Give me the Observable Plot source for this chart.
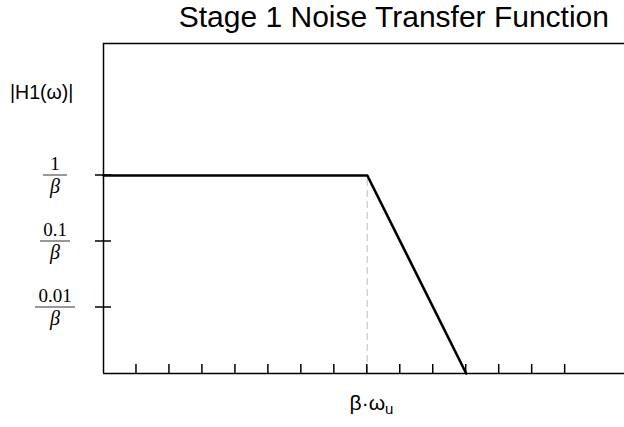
<!DOCTYPE html>
<html><head><meta charset="utf-8">
<script src="https://cdn.jsdelivr.net/npm/d3@7"></script>
<script src="https://cdn.jsdelivr.net/npm/@observablehq/plot@0.6"></script>
<style>body{margin:0;background:#fff}</style>
</head><body><div id="chart"></div>
<script>
// ---- data ----
const xTicks = [1, 2, 3, 4, 5, 6, 7, 8, 9, 10, 11, 12, 13, 14];
const yTicks = [1, 0.1, 0.01];
const yTickNumerators = ["1", "0.1", "0.01"];
const yTickDenominator = "β";
const curveX = [0, 8, 11];
const curveY = [1, 1, 0.001];
const cornerX = 8;
const xDomain = [0, 15.8];
const yDomain = [0.001, 100];
const title = "Stage 1 Noise Transfer Function";
const yLabel = "|H1(ω)|";
const xLabel = "β·ω";
const xLabelSub = "u";

const curve = curveX.map((x, i) => ({x, y: curveY[i]}));
const sans = "Arial, 'Liberation Sans', sans-serif";
const serif = "'Times New Roman', 'Liberation Serif', serif";

function annotations(index, scales, values, dims) {
  const {x, y} = scales;
  const g = d3.create("svg:g").attr("text-anchor", "start");
  const left = dims.marginLeft, bottom = dims.height - dims.marginBottom;
  // x inner ticks
  for (const t of xTicks) {
    g.append("line").attr("x1", x(t)).attr("x2", x(t)).attr("y1", bottom).attr("y2", bottom - 9)
      .attr("stroke", "#000").attr("stroke-width", 1.5);
  }
  // y crossing ticks + fraction labels
  yTicks.forEach((t, i) => {
    const yy = y(t);
    g.append("line").attr("x1", left - 8).attr("x2", left + 8).attr("y1", yy).attr("y2", yy)
      .attr("stroke", "#000").attr("stroke-width", 1.5);
    const num = yTickNumerators[i];
    const half = Math.max(12, num.length * 5);
    const cx = 55;
    g.append("line").attr("x1", cx - half).attr("x2", cx + half).attr("y1", yy).attr("y2", yy)
      .attr("stroke", "#333").attr("stroke-width", 1);
    g.append("text").attr("x", cx).attr("y", yy - 5).attr("text-anchor", "middle")
      .attr("font-family", serif).attr("font-size", 19).text(num);
    g.append("text").attr("x", cx).attr("y", yy + 18).attr("text-anchor", "middle")
      .attr("font-family", serif).attr("font-style", "italic").attr("font-size", 20).text(yTickDenominator);
  });
  // title
  g.append("text").attr("x", 609).attr("y", 27).attr("text-anchor", "end")
    .attr("font-family", sans).attr("font-size", 30).text(title);
  // y label
  g.append("text").attr("x", 10).attr("y", 99).attr("text-anchor", "start")
    .attr("font-family", sans).attr("font-size", 19.5).text(yLabel);
  // x label
  const xl = g.append("text").attr("x", (x(xDomain[0]) + x(xDomain[1])) / 2 + 8).attr("y", 410)
    .attr("text-anchor", "middle").attr("font-family", sans).attr("font-size", 21);
  xl.append("tspan").text(xLabel);
  xl.append("tspan").attr("font-size", 15).attr("dy", 4).text(xLabelSub);
  return g.node();
}

const chart = Plot.plot({
  width: 624,
  height: 427,
  marginLeft: 103,
  marginRight: 0,
  marginTop: 43,
  marginBottom: 54,
  x: {domain: xDomain, axis: null},
  y: {type: "log", domain: yDomain, axis: null},
  marks: [
    Plot.ruleX([cornerX], {y1: yDomain[0], y2: 1, stroke: "#d0d0d0", strokeWidth: 1.5, strokeDasharray: "7,4"}),
    Plot.ruleX([xDomain[0]], {stroke: "#000", strokeWidth: 1.5}),
    Plot.ruleY(yDomain, {stroke: "#000", strokeWidth: 1.5}),
    Plot.line(curve, {x: "x", y: "y", stroke: "#000", strokeWidth: 2.6}),
    annotations
  ]
});
document.getElementById("chart").append(chart);
</script>
</body></html>
